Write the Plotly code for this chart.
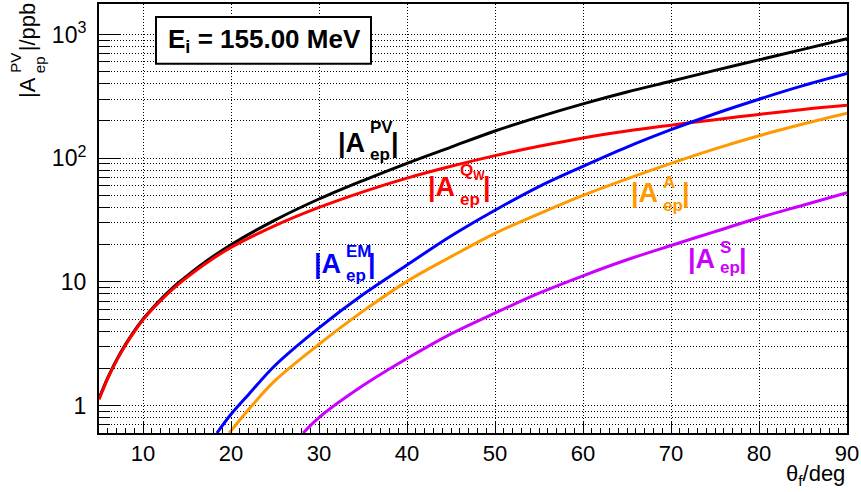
import plotly.graph_objects as go

# ---------------- data ----------------
theta_pv = [5, 6, 7, 8, 9, 10, 11, 12, 13, 14, 15, 17.5, 20, 25, 30, 35, 40, 45, 50, 55, 60, 65, 70, 75, 80, 85, 90]
A_pv = [1.14, 1.68, 2.34, 3.11, 4.0, 5.0, 6.05, 7.2, 8.45, 9.8, 11.2, 15.25, 20, 31.6, 46.8, 66, 91, 123, 166, 216, 275, 343, 419, 513, 624, 759, 925]
A_qw = [1.12, 1.66, 2.31, 3.07, 3.95, 4.93, 5.95, 7.05, 8.25, 9.55, 10.9, 14.7, 19, 28.5, 40, 53.5, 69, 86, 105, 125, 146, 166, 185, 205, 226, 248, 268]

theta_em = [18.4, 20, 22, 25, 30, 35, 40, 45, 50, 55, 60, 65, 70, 75, 80, 85, 90]
A_em = [0.6, 0.85, 1.23, 2.11, 4.25, 7.9, 13.7, 23.5, 38, 59, 86, 123, 170, 229, 300, 386, 484]

theta_a = [19.8, 22, 25, 30, 35, 40, 45, 50, 55, 60, 65, 70, 75, 80, 85, 90]
A_a = [0.6, 0.93, 1.59, 3.13, 5.8, 10.1, 16, 24.7, 35.5, 50, 68, 90.8, 119, 152, 189, 231]

theta_s = [28.2, 30, 35, 40, 45, 50, 55, 60, 65, 70, 75, 80, 85, 90]
A_s = [0.6, 0.8, 1.45, 2.4, 3.8, 5.6, 8.1, 11.2, 15.1, 19.7, 25.5, 33, 41.7, 52.6]

x_ticks = [10, 20, 30, 40, 50, 60, 70, 80, 90]
y_tickvals = [1, 10, 100, 1000]
y_ticktext = ["1", "10", "10<sup>2</sup>", "10<sup>3</sup>"]

FONT = "Liberation Sans, Arial, Helvetica, sans-serif"
BLACK, RED, BLUE, ORANGE, VIOLET = "#000000", "#ff0000", "#0000ff", "#ff9900", "#cc00ff"
DOT = "1px,2px"

fig = go.Figure()
for xs, ys, col in [(theta_pv, A_pv, BLACK), (theta_pv, A_qw, RED),
                    (theta_em, A_em, BLUE), (theta_a, A_a, ORANGE), (theta_s, A_s, VIOLET)]:
    fig.add_trace(go.Scatter(x=xs, y=ys, mode="lines",
                             line=dict(color=col, width=3, shape="spline", smoothing=1.0),
                             showlegend=False, hoverinfo="skip"))

# pixel -> paper helpers (plot area 99..847 x 2..433)
L, R, T, B = 99, 847, 2, 433
def px(x):
    return (x - L) / (R - L)
def py(y):
    return (B - y) / (B - T)

ann = []
def txt(text, x, y, size, color, xanchor="center", yanchor="middle", angle=0):
    ann.append(dict(text=text, x=px(x), y=py(y), xref="paper", yref="paper",
                    xanchor=xanchor, yanchor=yanchor, showarrow=False, textangle=angle,
                    font=dict(family=FONT, size=size, color=color)))

def label(xA, yc, sup, sub, xbar, color, ysup, ysub, big=27, small=17):
    txt("<b>|A</b>", xA, yc, big, color, xanchor="right")
    txt("<b>%s</b>" % sup, xA + 1, ysup, small, color, xanchor="left")
    txt("<b>%s</b>" % sub, xA + 1, ysub, small, color, xanchor="left")
    txt("<b>|</b>", xbar, yc, big, color, xanchor="left")

label(367, 142, "PV", "ep", 389, BLACK, 126, 153)
label(457, 186, "Q<sub>W</sub>", "ep", 481, RED, 171, 198)
label(343, 263, "EM", "ep", 366, BLUE, 251, 275)
label(660, 192, "A", "ep", 680, ORANGE, 181, 204)
label(717, 258, "S", "ep", 737, VIOLET, 247, 267)

# energy box
fig.add_shape(type="rect", xref="paper", yref="paper",
              x0=px(156), x1=px(371), y0=py(62), y1=py(15),
              line=dict(color="black", width=2), fillcolor="white", layer="above")
txt("<b>E<sub>i</sub> = 155.00 MeV</b>", 264, 39, 26, BLACK)

# x title
txt("θ<sub>f</sub>/deg", 847, 475, 22, BLACK, xanchor="right")

# y title (rotated, stacked super/subscript)
txt("|A", 27, 99, 22, BLACK, yanchor="bottom", angle=-90)
txt("PV", 16, 73, 15, BLACK, yanchor="bottom", angle=-90)
txt("ep", 39, 74, 15, BLACK, yanchor="bottom", angle=-90)
txt("|/ppb", 27, 52, 22, BLACK, yanchor="bottom", angle=-90)

fig.update_layout(
    width=861, height=492,
    margin=dict(l=L, r=861 - R, t=T, b=492 - B),
    paper_bgcolor="white", plot_bgcolor="white",
    font=dict(family=FONT, size=22, color="black"),
    annotations=ann,
    xaxis=dict(range=[5, 90], tickvals=x_ticks, ticks="inside", ticklen=11, tickwidth=1,
               tickcolor="black", showline=True, linecolor="black", linewidth=2, mirror=True,
               showgrid=True, gridcolor="black", gridwidth=1, griddash=DOT,
               zeroline=False, tickfont=dict(size=22), ticklabelstandoff=0,
               minor=dict(dtick=1, ticks="inside", ticklen=5, tickcolor="black", showgrid=False)),
    yaxis=dict(type="log", range=[-0.2218, 3.247], tickvals=y_tickvals, ticktext=y_ticktext,
               ticks="inside", ticklen=21, tickwidth=1, tickcolor="black",
               showline=True, linecolor="black", linewidth=2, mirror=True,
               showgrid=True, gridcolor="black", gridwidth=1, griddash=DOT,
               zeroline=False, tickfont=dict(size=23), ticklabelstandoff=6,
               minor=dict(dtick="D1", ticks="inside", ticklen=11, tickcolor="black",
                          showgrid=True, gridcolor="black", gridwidth=1, griddash=DOT)),
)

fig.write_html("out.html")
